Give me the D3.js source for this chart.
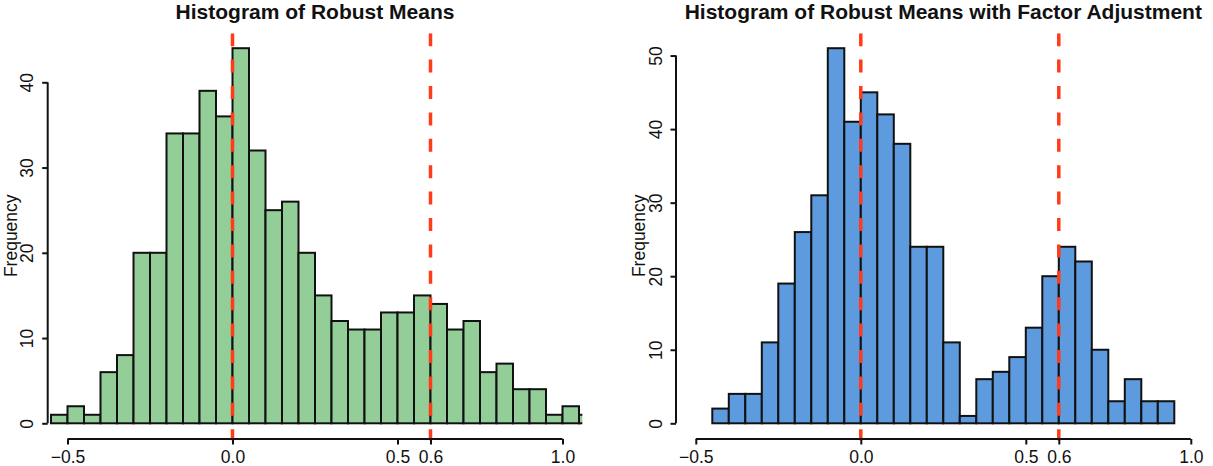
<!DOCTYPE html>
<html>
<head>
<meta charset="utf-8">
<script src="https://cdn.jsdelivr.net/npm/d3@7"></script>
<style>
  html, body { margin: 0; padding: 0; background: #fff; }
  svg { display: block; }
  text { font-family: "Liberation Sans", Arial, Helvetica, sans-serif; fill: #111; }
</style>
</head>
<body>
<svg id="chart" width="1213" height="466"></svg>
<script>
// ---- Data ----
const titles = ["Histogram of Robust Means", "Histogram of Robust Means with Factor Adjustment"];
const yLabel = "Frequency";
const binWidth = 0.05;
const leftFirstBreak = -0.55;
const leftCounts = [1, 2, 1, 6, 8, 20, 20, 34, 34, 39, 36, 44, 32, 25, 26, 20, 15, 12, 11, 11, 13, 13, 15, 14, 11, 12, 6, 7, 4, 4, 1, 2, 1];
const rightFirstBreak = -0.45;
const rightCounts = [2, 4, 4, 11, 19, 26, 31, 51, 41, 45, 42, 38, 24, 24, 11, 1, 6, 7, 9, 13, 20, 24, 22, 10, 3, 6, 3, 3];
const xTickValues = [-0.5, 0.0, 0.5, 0.6, 1.0];
const xTickLabels = ["\u22120.5", "0.0", "0.5", "0.6", "1.0"];
const leftYTicks = [0, 10, 20, 30, 40];
const rightYTicks = [0, 10, 20, 30, 40, 50];
const refLines = [0.0, 0.6];
const xDomain = [-0.56, 1.06];

// ---- Layout / style ----
const panels = [
  { title: titles[0], first: leftFirstBreak, counts: leftCounts, yTicks: leftYTicks, fill: "#93cd98", x0: 47.7, x1: 582.3 },
  { title: titles[1], first: rightFirstBreak, counts: rightCounts, yTicks: rightYTicks, fill: "#5d9ade", x0: 676, x1: 1210.6 }
];
const plotTop = 33.2, plotBottom = 438.3;
const fontAxis = "17.5px";
const svg = d3.select("#chart");

panels.forEach((p, idx) => {
  const g = svg.append("g");
  const x = d3.scaleLinear().domain(xDomain).range([p.x0, p.x1]);
  const yMax = d3.max(p.counts);
  const pad = yMax * 0.04;
  const y = d3.scaleLinear().domain([-pad, yMax + pad]).range([plotBottom, plotTop]);

  const clipId = "clip" + idx;
  svg.append("clipPath").attr("id", clipId)
    .append("rect").attr("x", p.x0).attr("y", plotTop).attr("width", p.x1 - p.x0).attr("height", plotBottom - plotTop + 3);

  const bins = p.counts.map((c, i) => ({ lo: p.first + i * binWidth, hi: p.first + (i + 1) * binWidth, c }));
  const plot = g.append("g").attr("clip-path", `url(#${clipId})`);
  plot.selectAll("rect.bar").data(bins).enter().append("rect")
    .attr("class", "bar")
    .attr("x", d => x(d.lo))
    .attr("width", d => x(d.hi) - x(d.lo))
    .attr("y", d => y(d.c))
    .attr("height", d => y(0) - y(d.c))
    .attr("fill", p.fill)
    .attr("stroke", "#111")
    .attr("stroke-width", 2);

  plot.selectAll("line.ref").data(refLines).enter().append("line")
    .attr("x1", d => x(d)).attr("x2", d => x(d))
    .attr("y1", plotTop).attr("y2", plotBottom + 2)
    .attr("stroke", "#ff3b1a")
    .attr("stroke-width", 3.5)
    .attr("stroke-dasharray", "13,13.4");

  // x axis (R style: line from first to last tick)
  const xAxis = d3.axisBottom(x).tickValues(xTickValues)
    .tickFormat((d, i) => xTickLabels[i]).tickSize(5.5).tickSizeOuter(0).tickPadding(3);
  const xa = g.append("g").attr("transform", `translate(0,${plotBottom + 0.7})`).call(xAxis);
  xa.select(".domain").remove();
  xa.append("line").attr("x1", x(xTickValues[0])).attr("x2", x(xTickValues[xTickValues.length - 1]))
    .attr("stroke", "#111").attr("stroke-width", 2);
  xa.selectAll(".tick line").attr("stroke", "#111").attr("stroke-width", 2);
  xa.selectAll(".tick text").attr("font-size", fontAxis).attr("fill", "#111")
    .attr("y", null).attr("dy", null).attr("transform", "translate(0,24)")
    .style("font-family", '"Liberation Sans", Arial, sans-serif');

  // y axis
  const yAxis = d3.axisLeft(y).tickValues(p.yTicks).tickSize(5.5).tickSizeOuter(0).tickFormat(d3.format("d"));
  const ya = g.append("g").attr("transform", `translate(${p.x0},0)`).call(yAxis);
  ya.select(".domain").remove();
  ya.append("line").attr("y1", y(p.yTicks[0])).attr("y2", y(p.yTicks[p.yTicks.length - 1]))
    .attr("stroke", "#111").attr("stroke-width", 2);
  ya.selectAll(".tick line").attr("stroke", "#111").attr("stroke-width", 2);
  ya.selectAll(".tick text")
    .attr("x", null).attr("dy", null)
    .attr("text-anchor", "middle")
    .attr("transform", "translate(-14.5,0) rotate(-90)")
    .attr("font-size", fontAxis).attr("fill", "#111")
    .style("font-family", '"Liberation Sans", Arial, sans-serif');

  // y label
  g.append("text")
    .attr("transform", `translate(${p.x0 - 31},${(plotTop + plotBottom) / 2}) rotate(-90)`)
    .attr("text-anchor", "middle")
    .attr("font-size", fontAxis)
    .text(yLabel);

  // title
  g.append("text")
    .attr("x", (p.x0 + p.x1) / 2)
    .attr("y", 19)
    .attr("text-anchor", "middle")
    .attr("font-size", "21px")
    .attr("font-weight", "bold")
    .text(p.title);
});
</script>
</body>
</html>
